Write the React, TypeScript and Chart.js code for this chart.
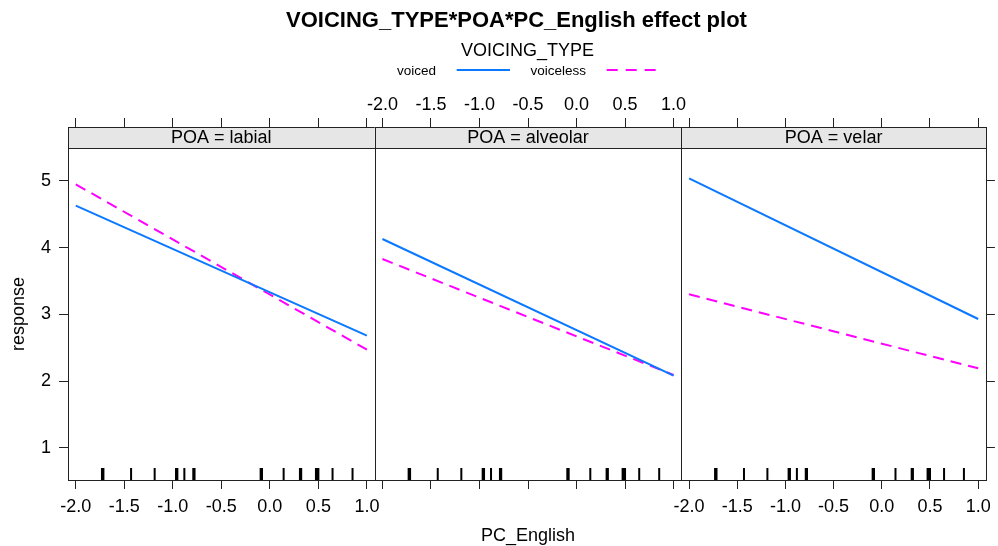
import React, { useEffect, useRef } from 'react';
import { Chart, registerables } from 'chart.js';

Chart.register(...registerables);

// ---------- data ----------
const TITLE = 'VOICING_TYPE*POA*PC_English effect plot';
const LEGEND_TITLE = 'VOICING_TYPE';
const SERIES_NAMES = ['voiced', 'voiceless'];
const POA_LEVELS = ['labial', 'alveolar', 'velar'];
const X_LABEL = 'PC_English';
const Y_LABEL = 'response';
const PC_ENGLISH = [-2, 1];
const VOICED = [
  [4.63, 2.68],
  [4.13, 2.08],
  [5.04, 2.93],
];
const VOICELESS = [
  [4.95, 2.47],
  [3.83, 2.09],
  [3.3, 2.19],
];
const RUG = [
  -1.73, -1.715, -1.43, -1.187, -0.967, -0.953, -0.881, -0.789, -0.776, -0.095, -0.081,
  0.142, 0.31, 0.323, 0.475, 0.488, 0.5, 0.646, 0.852,
];
const X_TICKS = [-2, -1.5, -1, -0.5, 0, 0.5, 1];
const Y_TICKS = [1, 2, 3, 4, 5];

// ---------- layout / style ----------
const W = 998;
const H = 546;
const PANEL_LEFT = 68;
const PANEL_RIGHT = 988;
const AREA_TOP = 127;
const AREA_BOTTOM = 480;
const STRIP_H = 21;
const X_MIN = -2.08;
const X_MAX = 1.08;
const Y_MIN = 0.515;
const Y_MAX = 5.81;
const FONT = "'Liberation Sans', Arial, Helvetica, sans-serif";
const BLUE = '#0a78ff';
const MAGENTA = '#ff00ff';
const AXIS = '#222222';
const STRIP_BG = '#e6e6e6';
const DASH = [11, 7];

function panelPlugin(i: number) {
  return {
    id: 'panelDeco' + i,
    beforeDatasetsDraw(chart: any) {
      const { ctx, chartArea: a } = chart;
      ctx.save();
      ctx.fillStyle = STRIP_BG;
      ctx.fillRect(a.left, a.top, a.right - a.left, STRIP_H);
      ctx.fillStyle = '#000';
      ctx.font = `18px ${FONT}`;
      ctx.textAlign = 'center';
      ctx.textBaseline = 'middle';
      ctx.fillText(`POA = ${POA_LEVELS[i]}`, (a.left + a.right) / 2, a.top + STRIP_H / 2 + 1);
      ctx.restore();
    },
    afterDatasetsDraw(chart: any) {
      const { ctx, chartArea: a } = chart;
      const xs = chart.scales.x;
      ctx.save();
      // rug
      ctx.strokeStyle = '#000';
      ctx.lineWidth = 2;
      ctx.beginPath();
      for (const v of RUG) {
        const px = xs.getPixelForValue(v);
        ctx.moveTo(px, a.bottom);
        ctx.lineTo(px, a.bottom - 12);
      }
      ctx.stroke();
      // border and strip line
      ctx.strokeStyle = AXIS;
      ctx.lineWidth = 1;
      const l = Math.round(a.left) + 0.5;
      const r = Math.round(a.right) + 0.5;
      const t = Math.round(a.top) + 0.5;
      const b = Math.round(a.bottom) + 0.5;
      ctx.strokeRect(l, t, r - l, b - t);
      ctx.beginPath();
      ctx.moveTo(l, t + STRIP_H);
      ctx.lineTo(r, t + STRIP_H);
      ctx.stroke();
      ctx.restore();
    },
  };
}

function makeChart(canvas: HTMLCanvasElement, i: number) {
  const panelW = (PANEL_RIGHT - PANEL_LEFT) / 3;
  const left = PANEL_LEFT + i * panelW;
  const right = left + panelW;
  const isFirst = i === 0;
  const isLast = i === 2;
  const tickFont = { family: FONT, size: 18 };
  const xTicks = (s: any) => {
    s.ticks = X_TICKS.map((v) => ({ value: v }));
  };
  const yTicks = (s: any) => {
    s.ticks = Y_TICKS.map((v) => ({ value: v }));
  };
  const fmt = (v: any) => Number(v).toFixed(1);
  const gridOpts = { drawOnChartArea: false, drawTicks: true, tickLength: 9, color: AXIS, lineWidth: 1 };

  return new Chart(canvas, {
    type: 'line',
    data: {
      datasets: [
        {
          label: SERIES_NAMES[0],
          data: PC_ENGLISH.map((x, k) => ({ x, y: VOICED[i][k] })),
          borderColor: BLUE,
          backgroundColor: BLUE,
          borderWidth: 2,
          pointRadius: 0,
          fill: false,
          tension: 0,
          xAxisID: 'x',
          yAxisID: 'y',
        },
        {
          label: SERIES_NAMES[1],
          data: PC_ENGLISH.map((x, k) => ({ x, y: VOICELESS[i][k] })),
          borderColor: MAGENTA,
          backgroundColor: MAGENTA,
          borderWidth: 2,
          borderDash: DASH,
          pointRadius: 0,
          fill: false,
          tension: 0,
          xAxisID: 'x',
          yAxisID: 'y',
        },
      ],
    },
    options: {
      responsive: false,
      animation: false,
      events: [],
      layout: {
        autoPadding: false,
        padding: {
          left: isFirst ? 0 : left,
          right: isLast ? 0 : W - right,
          top: 0,
          bottom: 0,
        },
      },
      plugins: {
        legend: { display: false },
        tooltip: { enabled: false },
        title: { display: false },
      },
      scales: {
        x: {
          type: 'linear',
          axis: 'x',
          position: 'bottom',
          min: X_MIN,
          max: X_MAX,
          afterBuildTicks: xTicks,
          afterFit: (s: any) => {
            s.height = H - AREA_BOTTOM;
          },
          ticks: {
            display: i !== 1,
            font: tickFont,
            color: '#000',
            padding: 7,
            autoSkip: false,
            maxRotation: 0,
            minRotation: 0,
            callback: fmt,
          },
          grid: gridOpts,
          border: { display: false },
        },
        xTop: {
          type: 'linear',
          axis: 'x',
          position: 'top',
          min: X_MIN,
          max: X_MAX,
          afterBuildTicks: xTicks,
          afterFit: (s: any) => {
            s.height = AREA_TOP;
          },
          ticks: {
            display: i === 1,
            font: tickFont,
            color: '#000',
            padding: 2.5,
            autoSkip: false,
            maxRotation: 0,
            minRotation: 0,
            callback: fmt,
          },
          grid: gridOpts,
          border: { display: false },
        },
        y: {
          type: 'linear',
          axis: 'y',
          position: isLast ? 'right' : 'left',
          display: i !== 1,
          min: Y_MIN,
          max: Y_MAX,
          afterBuildTicks: yTicks,
          afterFit: (s: any) => {
            s.width = isFirst ? left : isLast ? W - right : 0;
          },
          ticks: {
            display: isFirst,
            font: tickFont,
            color: '#000',
            padding: 8,
            autoSkip: false,
          },
          grid: gridOpts,
          border: { display: false },
        },
      },
    } as any,
    plugins: [panelPlugin(i)],
  });
}

const abs = (x: number, y: number, extra: React.CSSProperties = {}): React.CSSProperties => ({
  position: 'absolute',
  left: x,
  top: y,
  transform: 'translate(-50%, -50%)',
  whiteSpace: 'nowrap',
  lineHeight: 1,
  fontFamily: FONT,
  color: '#000',
  ...extra,
});

export default function App() {
  const r0 = useRef<HTMLCanvasElement>(null);
  const r1 = useRef<HTMLCanvasElement>(null);
  const r2 = useRef<HTMLCanvasElement>(null);

  useEffect(() => {
    const refs = [r0, r1, r2];
    const charts = refs.map((r, i) => makeChart(r.current as HTMLCanvasElement, i));
    return () => charts.forEach((c) => c.destroy());
  }, []);

  const canvasStyle: React.CSSProperties = { position: 'absolute', left: 0, top: 0, width: W, height: H };

  return (
    <div style={{ position: 'fixed', left: 0, top: 0, width: W, height: H, background: '#fff', overflow: 'hidden' }}>
      <canvas ref={r0} width={W} height={H} style={canvasStyle} />
      <canvas ref={r1} width={W} height={H} style={canvasStyle} />
      <canvas ref={r2} width={W} height={H} style={canvasStyle} />
      <div style={abs(516.5, 20, { fontSize: 22, fontWeight: 'bold' })}>{TITLE}</div>
      <div style={abs(527.5, 50, { fontSize: 18 })}>{LEGEND_TITLE}</div>
      <div style={abs(416.5, 71, { fontSize: 13.5 })}>{SERIES_NAMES[0]}</div>
      <div style={abs(558.3, 71, { fontSize: 13.5 })}>{SERIES_NAMES[1]}</div>
      <svg width={W} height={H} style={{ position: 'absolute', left: 0, top: 0 }}>
        <line x1={456.7} y1={70} x2={510} y2={70} stroke={BLUE} strokeWidth={2} />
        <line x1={606.7} y1={70} x2={656} y2={70} stroke={MAGENTA} strokeWidth={2} strokeDasharray="11 8" />
      </svg>
      <div style={abs(18, 314, { fontSize: 18, transform: 'translate(-50%, -50%) rotate(-90deg)' })}>{Y_LABEL}</div>
      <div style={abs(528, 535, { fontSize: 18 })}>{X_LABEL}</div>
    </div>
  );
}
